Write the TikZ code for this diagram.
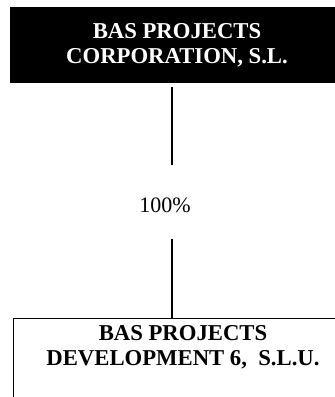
\documentclass[tikz,border=0pt]{standalone}
\usepackage{fontspec}
\setmainfont{Liberation Serif}

\begin{document}
\begin{tikzpicture}[x=1pt,y=-1pt,
  corpbox/.style={fill=black,text=white,align=center,inner sep=0pt,minimum width=334pt,minimum height=76pt,font=\bfseries\fontsize{22.7}{25}\selectfont},
  devbox/.style={draw=black,line width=1pt,align=center,anchor=north,inner xsep=0pt,inner ysep=7pt,minimum width=340pt,text depth=60pt,font=\bfseries\fontsize{22.7}{25}\selectfont},
  link/.style={line width=1.6pt}]

\useasboundingbox (0,0) rectangle (335,397);
\begin{scope}
\clip (0,0) rectangle (335,397);

\node[corpbox] (corp) at (177,45) {BAS PROJECTS\\CORPORATION, S.L.};
\node[font=\fontsize{22}{25}\selectfont,inner sep=0pt] (pct) at (165,205) {100\%};
\node[devbox] (dev) at (183,318) {BAS PROJECTS\\DEVELOPMENT 6, \ S.L.U.};

\coordinate (stem) at (172,0);
\draw[link,shorten <=4pt,shorten >=32pt] (corp.south -| stem) -- (pct.north -| stem);
\draw[link,shorten <=26pt] (pct.south -| stem) -- (dev.north -| stem);

\end{scope}
\end{tikzpicture}
\end{document}
